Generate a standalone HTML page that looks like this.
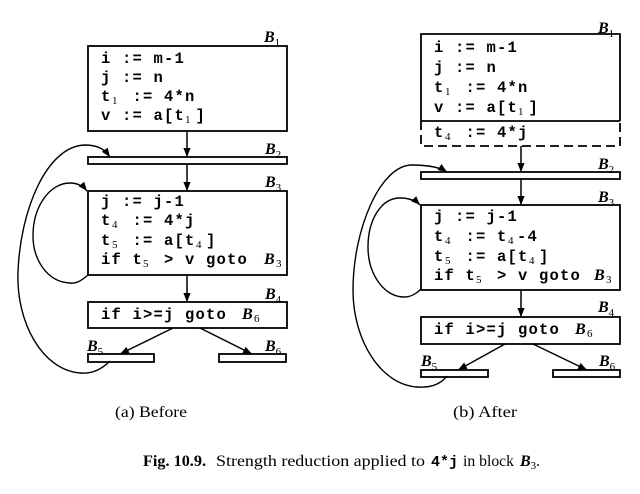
<!DOCTYPE html>
<html>
<head>
<meta charset="utf-8">
<style>
  html,body{margin:0;padding:0;background:#fff;}
  svg{display:block;}
  .c{font-family:"Liberation Mono",monospace;font-weight:bold;font-size:15.5px;letter-spacing:1.2px;fill:#000;}
  .s{font-family:"Liberation Serif",serif;font-weight:normal;font-size:11px;letter-spacing:0;}
  .bi{font-family:"Liberation Serif",serif;font-weight:bold;font-style:italic;font-size:16px;letter-spacing:0;}
  .lbl{font-family:"Liberation Serif",serif;font-weight:bold;font-style:italic;font-size:16px;fill:#000;}
  .ls{font-family:"Liberation Serif",serif;font-weight:normal;font-style:normal;font-size:11px;}
  .cap{font-family:"Liberation Serif",serif;font-size:16px;fill:#000;}
  .fig{font-family:"Liberation Serif",serif;font-size:16px;fill:#000;}
</style>
</head>
<body>
<svg width="640" height="494" viewBox="0 0 640 494" xmlns="http://www.w3.org/2000/svg">
  <defs>
    <marker id="ah" viewBox="0 0 10 8" refX="10" refY="4" markerWidth="9" markerHeight="7.2" markerUnits="userSpaceOnUse" orient="auto">
      <path d="M0,0 L10,4 L0,8 z" fill="#000"/>
    </marker>
  </defs>
  <rect x="0" y="0" width="640" height="494" fill="#fff"/>

  <g fill="none" stroke="#000" stroke-width="1.8">
    <!-- LEFT (a) -->
    <rect x="88" y="46" width="199" height="85"/>
    <rect x="88" y="157" width="199" height="7"/>
    <rect x="88" y="191" width="199" height="84"/>
    <rect x="88" y="302" width="199" height="26"/>
    <rect x="88" y="354" width="66" height="8"/>
    <rect x="219" y="354" width="67" height="8"/>

    <!-- RIGHT (b) -->
    <path d="M421,121 L421,34 L620,34 L620,121"/>
    <line x1="421" y1="121" x2="620" y2="121"/>
    <path d="M421,121 L421,146 L620,146 L620,121" stroke-dasharray="9,5"/>
    <rect x="421" y="172" width="199" height="7"/>
    <rect x="421" y="205" width="199" height="85"/>
    <rect x="421" y="317" width="199" height="27"/>
    <rect x="421" y="370" width="67" height="7"/>
    <rect x="553" y="370" width="67" height="7"/>
  </g>

  <g fill="none" stroke="#000" stroke-width="1.5" marker-end="url(#ah)">
    <line x1="187" y1="131" x2="187" y2="157"/>
    <line x1="187" y1="164" x2="187" y2="191"/>
    <line x1="187" y1="275" x2="187" y2="302"/>
    <line x1="173" y1="328" x2="120" y2="354"/>
    <line x1="200" y1="328" x2="252" y2="354"/>
    <line x1="521" y1="146" x2="521" y2="172"/>
    <line x1="521" y1="179" x2="521" y2="205"/>
    <line x1="521" y1="290" x2="521" y2="317"/>
    <line x1="505" y1="344" x2="458" y2="370"/>
    <line x1="533" y1="344" x2="587" y2="370"/>
  </g>

  <g fill="none" stroke="#000" stroke-width="1.4" marker-end="url(#ah)">
    <path d="M110,361 C100,371 90,374 80,373 C42,370 16,322 18,272 C20,212 46,146 85,145 C99,145 105,150 110,157"/>
    <path d="M88,275 C81,281 76,284 70,283 C46,282 33,258 33,236 C33,206 50,183 70,183 C78,183 83,186 87,191"/>
    <path d="M447,376 C440,385 430,388 417,387 C382,385 353,342 353,290 C353,230 380,165 412,165 C429,165 441,168 447,172"/>
    <path d="M421,289 C415,295 410,297 404,297 C384,297 368,274 368,247 C368,220 381,198 400,198 C410,198 416,201 420,205"/>
  </g>

  <!-- LEFT code -->
  <g class="c">
    <text x="101" y="63">i := m-1</text>
    <text x="101" y="82">j := n</text>
    <text x="101" y="101">t<tspan class="s" x="112" dy="3">1</tspan><tspan x="122" dy="-3"> := 4*n</tspan></text>
    <text x="101" y="120">v := a[t<tspan class="s" x="185" dy="3">1</tspan><tspan x="195.5" dy="-3">]</tspan></text>

    <text x="101" y="206">j := j-1</text>
    <text x="101" y="225">t<tspan class="s" x="112" dy="3">4</tspan><tspan x="122" dy="-3"> := 4*j</tspan></text>
    <text x="101" y="245">t<tspan class="s" x="112" dy="3">5</tspan><tspan x="122" dy="-3"> := a[t</tspan><tspan class="s" x="196" dy="3">4</tspan><tspan x="206" dy="-3">]</tspan></text>
    <text x="101" y="264">if t<tspan class="s" x="143" dy="3">5</tspan><tspan x="153.5" dy="-3"> &gt; v goto</tspan><tspan class="bi" x="264">B</tspan><tspan class="s" x="276" dy="3">3</tspan></text>

    <text x="101" y="319">if i&gt;=j goto<tspan class="bi" x="242">B</tspan><tspan class="s" x="254" dy="3">6</tspan></text>
  </g>

  <!-- RIGHT code -->
  <g class="c">
    <text x="434" y="52">i := m-1</text>
    <text x="434" y="72">j := n</text>
    <text x="434" y="92">t<tspan class="s" x="445" dy="3">1</tspan><tspan x="455" dy="-3"> := 4*n</tspan></text>
    <text x="434" y="112">v := a[t<tspan class="s" x="518" dy="3">1</tspan><tspan x="528.5" dy="-3">]</tspan></text>
    <text x="434" y="137">t<tspan class="s" x="445" dy="3">4</tspan><tspan x="455" dy="-3"> := 4*j</tspan></text>

    <text x="434" y="221">j := j-1</text>
    <text x="434" y="241">t<tspan class="s" x="445" dy="3">4</tspan><tspan x="455" dy="-3"> := t</tspan><tspan class="s" x="508" dy="3">4</tspan><tspan x="517" dy="-3">-4</tspan></text>
    <text x="434" y="261">t<tspan class="s" x="445" dy="3">5</tspan><tspan x="455" dy="-3"> := a[t</tspan><tspan class="s" x="529" dy="3">4</tspan><tspan x="539" dy="-3">]</tspan></text>
    <text x="434" y="280">if t<tspan class="s" x="476" dy="3">5</tspan><tspan x="486.5" dy="-3"> &gt; v goto</tspan><tspan class="bi" x="594">B</tspan><tspan class="s" x="606" dy="3">3</tspan></text>

    <text x="434" y="334">if i&gt;=j goto<tspan class="bi" x="575">B</tspan><tspan class="s" x="587" dy="3">6</tspan></text>
  </g>

  <!-- Block labels -->
  <g class="lbl">
    <text x="264" y="42">B<tspan class="ls" dy="4">1</tspan></text>
    <text x="265" y="154">B<tspan class="ls" dy="4">2</tspan></text>
    <text x="265" y="187">B<tspan class="ls" dy="4">3</tspan></text>
    <text x="265" y="299">B<tspan class="ls" dy="4">4</tspan></text>
    <text x="87" y="351">B<tspan class="ls" dy="4">5</tspan></text>
    <text x="265" y="351">B<tspan class="ls" dy="4">6</tspan></text>

    <text x="598" y="33">B<tspan class="ls" dy="4">1</tspan></text>
    <text x="598" y="169">B<tspan class="ls" dy="4">2</tspan></text>
    <text x="598" y="202">B<tspan class="ls" dy="4">3</tspan></text>
    <text x="598" y="312">B<tspan class="ls" dy="4">4</tspan></text>
    <text x="421" y="366">B<tspan class="ls" dy="4">5</tspan></text>
    <text x="599" y="366">B<tspan class="ls" dy="4">6</tspan></text>
  </g>

  <!-- Sub-captions -->
  <text class="cap" x="115" y="417" textLength="72" lengthAdjust="spacingAndGlyphs">(a) Before</text>
  <text class="cap" x="453" y="417" textLength="64" lengthAdjust="spacingAndGlyphs">(b) After</text>

  <!-- Figure caption -->
  <text class="fig" x="143" y="466" font-weight="bold" textLength="63" lengthAdjust="spacingAndGlyphs">Fig. 10.9.</text>
  <text class="fig" x="216" y="466" textLength="209" lengthAdjust="spacingAndGlyphs">Strength reduction applied to</text>
  <text x="431" y="466" font-family="Liberation Mono, monospace" font-weight="bold" font-size="15" textLength="27" lengthAdjust="spacingAndGlyphs">4*j</text>
  <text class="fig" x="463" y="466" textLength="51" lengthAdjust="spacingAndGlyphs">in block</text>
  <text x="520" y="466" font-family="Liberation Serif, serif" font-weight="bold" font-style="italic" font-size="16">B<tspan font-size="11" font-weight="normal" font-style="normal" dy="3">3</tspan><tspan font-size="16" font-weight="normal" font-style="normal" dy="-3">.</tspan></text>
</svg>
</body>
</html>
